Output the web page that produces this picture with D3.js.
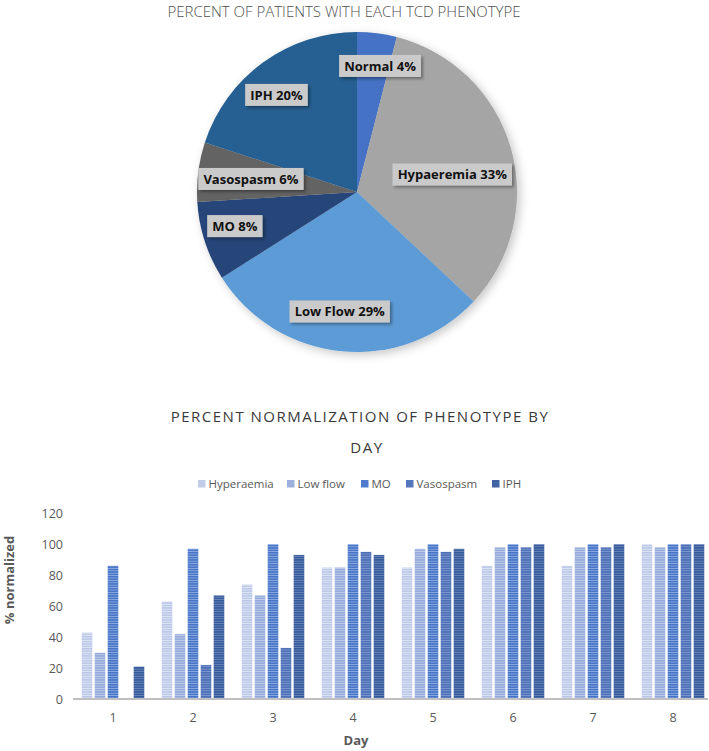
<!DOCTYPE html>
<html>
<head>
<meta charset="utf-8">
<script src="https://cdn.jsdelivr.net/npm/d3@7"></script>
<style>
  html, body { margin: 0; padding: 0; background: #fff; }
  svg { display: block; }
</style>
</head>
<body>
<div id="chart"></div>
<script>
// ---------- DATA ----------
const pieTitle = "PERCENT OF PATIENTS WITH EACH TCD PHENOTYPE";
const pieCategories = ["Normal", "Hypaeremia", "Low Flow", "MO", "Vasospasm", "IPH"];
const pieValues = [4, 33, 29, 8, 6, 20];

const barTitleLines = ["PERCENT NORMALIZATION OF PHENOTYPE BY", "DAY"];
const days = ["1", "2", "3", "4", "5", "6", "7", "8"];
const seriesNames = ["Hyperaemia", "Low flow", "MO", "Vasospasm", "IPH"];
const hyperaemia = [43, 63, 74, 85, 85, 86, 86, 100];
const lowFlow    = [30, 42, 67, 85, 97, 98, 98, 98];
const mo         = [86, 97, 100, 100, 100, 100, 100, 100];
const vasospasm  = [0, 22, 33, 95, 95, 98, 98, 100];
const iph        = [21, 67, 93, 93, 97, 100, 100, 100];
const yTicks = [0, 20, 40, 60, 80, 100, 120];
const yLabel = "% normalized";
const xLabel = "Day";

// ---------- STYLE / LAYOUT ----------
const W = 709, H = 751;
const pieColors = ["#4472C4", "#A5A5A5", "#5B9BD5", "#264478", "#636363", "#255E91"];
const pieLayout = { cx: 357, cy: 192, r: 160, labelR: 120 };
const labelNudge = {
  "Normal": [8, -7], "Hypaeremia": [-20, 16], "Low Flow": [-6, 0],
  "MO": [-8, -3], "Vasospasm": [13, 2], "IPH": [-10, 0]
};
const barBase   = ["#BAC6E7", "#93A8DA", "#4472C4", "#4A6DB5", "#34599A"];
const barStripe = ["#E0E6F4", "#C2CEEB", "#90AEE4", "#8099D0", "#6E87BA"];
const legendColors = ["#C2CDEA", "#9EB1DE", "#4E7CCB", "#5576BC", "#3F62A2"];

const seriesValues = [hyperaemia, lowFlow, mo, vasospasm, iph];

const svg = d3.select("#chart").append("svg")
  .attr("width", W).attr("height", H)
  .attr("font-family", "'Open Sans', 'DejaVu Sans', sans-serif");

const defs = svg.append("defs");
const pieShadow = defs.append("filter").attr("id", "pieShadow")
  .attr("x", "-20%").attr("y", "-20%").attr("width", "140%").attr("height", "140%");
pieShadow.append("feDropShadow").attr("dx", 3).attr("dy", 3)
  .attr("stdDeviation", 5).attr("flood-color", "#000").attr("flood-opacity", 0.22);

const boxShadow = defs.append("filter").attr("id", "boxShadow")
  .attr("x", "-20%").attr("y", "-40%").attr("width", "150%").attr("height", "200%");
boxShadow.append("feDropShadow").attr("dx", 2).attr("dy", 2)
  .attr("stdDeviation", 1.5).attr("flood-color", "#000").attr("flood-opacity", 0.35);

seriesNames.forEach((s, i) => {
  const p = defs.append("pattern").attr("id", "pat" + i)
    .attr("patternUnits", "userSpaceOnUse").attr("width", 8).attr("height", 2.4);
  p.append("rect").attr("width", 8).attr("height", 2.4).attr("fill", barStripe[i]);
  p.append("rect").attr("width", 8).attr("height", 1.5).attr("fill", barBase[i]);
});

// ---------- PIE ----------
svg.append("text")
  .attr("x", 344).attr("y", 17)
  .attr("text-anchor", "middle")
  .attr("font-size", 15).attr("font-weight", 300)
  .attr("fill", "#505050")
  .text(pieTitle);

const pieData = pieCategories.map((c, i) => ({ name: c, value: pieValues[i], color: pieColors[i] }));
const pie = d3.pie().value(d => d.value).sort(null);
const arcs = pie(pieData);
const arc = d3.arc().innerRadius(0).outerRadius(pieLayout.r);
const labelArc = d3.arc().innerRadius(pieLayout.labelR).outerRadius(pieLayout.labelR);

const pg = svg.append("g").attr("transform", `translate(${pieLayout.cx},${pieLayout.cy})`);
pg.append("g").attr("filter", "url(#pieShadow)")
  .selectAll("path").data(arcs).join("path")
  .attr("d", arc)
  .attr("fill", d => d.data.color);

const lg = pg.append("g");
arcs.forEach(a => {
  const [x, y] = labelArc.centroid(a);
  const n = labelNudge[a.data.name] || [0, 0];
  const g = lg.append("g").attr("transform", `translate(${x + n[0]},${y + n[1]})`);
  const rect = g.append("rect").attr("fill", "#CACACA").attr("filter", "url(#boxShadow)");
  const t = g.append("text")
    .attr("text-anchor", "middle").attr("dy", "0.36em")
    .attr("font-size", 13).attr("font-weight", 700)
    .attr("fill", "#111")
    .text(`${a.data.name} ${a.data.value}%`);
  const bb = t.node().getBBox();
  rect.attr("x", -bb.width / 2 - 5).attr("y", -11)
    .attr("width", bb.width + 10).attr("height", 22);
});

// ---------- BAR CHART ----------
const bt = svg.append("text")
  .attr("text-anchor", "middle")
  .attr("font-size", 15).attr("font-weight", 400)
  .attr("letter-spacing", "1.5px")
  .attr("fill", "#3a3a3a");
bt.append("tspan").attr("x", 360).attr("y", 422).text(barTitleLines[0]);
bt.append("tspan").attr("x", 367).attr("y", 453).text(barTitleLines[1]);

// legend
const legendX = [198, 287, 361, 406, 492];
const leg = svg.append("g");
seriesNames.forEach((s, i) => {
  const g = leg.append("g").attr("transform", `translate(${legendX[i]},480)`);
  g.append("rect").attr("width", 7.5).attr("height", 7.5).attr("fill", legendColors[i]);
  g.append("text").attr("x", 10.5).attr("y", 8.3)
    .attr("font-size", 11.5).attr("fill", "#595959").text(s);
});

const plot = { left: 73, right: 713, top: 513, bottom: 699 };
const x0 = d3.scaleBand().domain(days).range([plot.left, plot.right])
  .paddingInner(0.2125).paddingOuter(0.10625);
const x1 = d3.scaleBand().domain(seriesNames).range([0, x0.bandwidth()]).paddingInner(0.15);
const y = d3.scaleLinear().domain([0, 120]).range([plot.bottom, plot.top]);

const bg = svg.append("g");
days.forEach((d, di) => {
  const g = bg.append("g").attr("transform", `translate(${x0(d)},0)`);
  seriesNames.forEach((s, si) => {
    const v = seriesValues[si][di];
    if (v <= 0) return;
    g.append("rect")
      .attr("x", x1(s)).attr("width", x1.bandwidth())
      .attr("y", y(v)).attr("height", y(0) - y(v))
      .attr("fill", `url(#pat${si})`)
      .attr("stroke", "#fff").attr("stroke-width", 0.4);
  });
});

// y axis
const yAxis = d3.axisLeft(y).tickValues(yTicks).tickSize(0).tickPadding(0);
const yg = svg.append("g").attr("transform", `translate(63,0)`).call(yAxis);
yg.select(".domain").remove();
yg.selectAll("text").attr("font-size", 12.5).attr("fill", "#595959")
  .attr("font-family", "'Open Sans', sans-serif");

// x axis
const xAxis = d3.axisBottom(x0).tickSize(0).tickPadding(14);
const xg = svg.append("g").attr("transform", `translate(0,${plot.bottom})`).call(xAxis);
xg.select(".domain").attr("stroke", "#BFBFBF").attr("stroke-width", 2)
  .attr("d", `M${plot.left},0H${plot.right - 5}`);
xg.selectAll("text").attr("font-size", 12.5).attr("fill", "#595959")
  .attr("font-family", "'Open Sans', sans-serif");

svg.append("text")
  .attr("transform", `translate(14,580) rotate(-90)`)
  .attr("text-anchor", "middle")
  .attr("font-size", 13).attr("font-weight", 700).attr("fill", "#595959")
  .text(yLabel);

svg.append("text")
  .attr("x", 356).attr("y", 745)
  .attr("text-anchor", "middle")
  .attr("font-size", 13).attr("font-weight", 700).attr("fill", "#595959")
  .text(xLabel);
</script>
</body>
</html>
